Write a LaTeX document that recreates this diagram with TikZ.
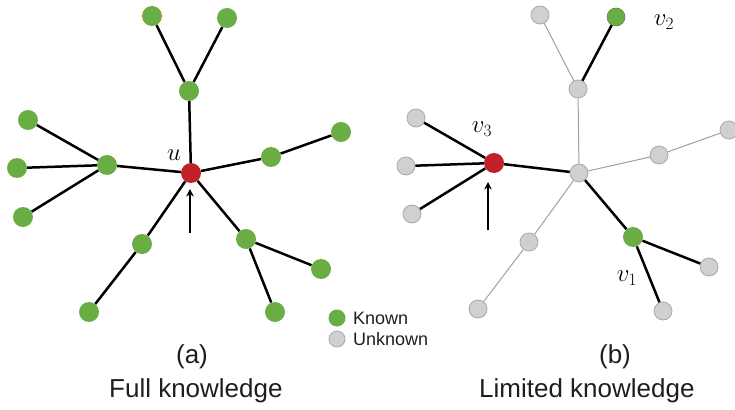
\documentclass[tikz,border=0pt]{standalone}
\usepackage{fontspec}
\setmainfont{Liberation Sans}
\usetikzlibrary{arrows.meta}
\definecolor{kgreen}{RGB}{106,173,69}
\definecolor{kred}{RGB}{192,32,40}
\definecolor{ufill}{RGB}{208,208,208}
\definecolor{udraw}{RGB}{168,168,168}
\definecolor{uedge}{RGB}{160,160,160}
\definecolor{captc}{RGB}{30,30,30}
\begin{document}
\begin{tikzpicture}[x=1pt,y=-1pt,
  known/.style={circle,fill=kgreen,inner sep=0pt,minimum size=20pt},
  root/.style={circle,fill=kred,inner sep=0pt,minimum size=20pt},
  unk/.style={circle,fill=ufill,draw=udraw,line width=0.8pt,inner sep=0pt,minimum size=18pt},
  knownsm/.style={circle,fill=kgreen,draw=kgreen!80!black,line width=0.6pt,inner sep=0pt,minimum size=18pt},
  bedge/.style={line width=2.5pt,black},
  gedge/.style={line width=1pt,uedge},
  pointer/.style={line width=2.5pt,-{Stealth[length=7.5pt,width=7.5pt]}},
  mlabel/.style={font=\fontsize{26}{26}\selectfont},
  captxt/.style={font=\fontsize{26}{30}\selectfont,text=captc,inner sep=0pt},
  leg/.style={font=\fontsize{18}{18}\selectfont,anchor=west,inner sep=0pt,text=captc}
]
\useasboundingbox (0,0) rectangle (735,409);
% ---------- (a) full knowledge ----------
\node[known] (a1) at (152,16) {};
\node[known] (a2) at (227,18) {};
\node[known] (at) at (189,91) {};
\node[root]  (u)  at (191,173) {};
\node[known] (al) at (107,165) {};
\node[known] (al1) at (28,120) {};
\node[known] (al2) at (17,168) {};
\node[known] (al3) at (23,217) {};
\node[known] (ar) at (271,157) {};
\node[known] (ar1) at (341,132) {};
\node[known] (abl) at (142,244) {};
\node[known] (abl1) at (89,312) {};
\node[known] (abr) at (246,239) {};
\node[known] (abr1) at (321,269) {};
\node[known] (abr2) at (275,312) {};
\coordinate (ua) at (190,233);
\coordinate (ut) at (190,189);
\draw[bedge] (a1) -- (at) -- (a2);
\draw[bedge] (at) -- (u);
\draw[bedge] (al1) -- (al) (al2) -- (al) (al3) -- (al) (al) -- (u);
\draw[bedge] (u) -- (ar) -- (ar1);
\draw[bedge] (u) -- (abl) -- (abl1);
\draw[bedge] (u) -- (abr) -- (abr1) (abr) -- (abr2);
\draw[pointer] (ua) -- (ut);
\node[mlabel] (ul) at (174,155) {$u$};
% ---------- (b) limited knowledge ----------
\node[unk] (b1) at (540,15) {};
\node[knownsm] (v2) at (616,17) {};
\node[unk] (bt) at (578,89) {};
\node[unk] (bc) at (579,173) {};
\node[root] (v3) at (494,163) {};
\node[unk] (bl1) at (416,118) {};
\node[unk] (bl2) at (406,166) {};
\node[unk] (bl3) at (412,214) {};
\node[unk] (br) at (659,155) {};
\node[unk] (br1) at (729,130) {};
\node[unk] (bbl) at (529,242) {};
\node[unk] (bbl1) at (478,309) {};
\node[known] (v1) at (633,237) {};
\node[unk] (bbr1) at (709,267) {};
\node[unk] (bbr2) at (663,311) {};
\coordinate (v3a) at (488,230);
\coordinate (v3t) at (488,182);
\draw[gedge] (b1) -- (bt) (bt) -- (bc) (bc) -- (br) -- (br1) (bc) -- (bbl) -- (bbl1);
\draw[bedge] (bt) -- (v2);
\draw[bedge] (bl1) -- (v3) (bl2) -- (v3) (bl3) -- (v3) (v3) -- (bc);
\draw[bedge] (bc) -- (v1) -- (bbr1) (v1) -- (bbr2);
\draw[pointer] (v3a) -- (v3t);
\node[mlabel] (v3l) at (482,129) {$v_3$};
\node[mlabel] (v2l) at (664,22) {$v_2$};
\node[mlabel] (v1l) at (627,278) {$v_1$};
% ---------- legend ----------
\node[known,minimum size=17pt] (lk) at (337,318) {};
\node[unk,minimum size=16pt] (lu) at (337,339) {};
\node[leg] (lkt) at (353,318) {Known};
\node[leg] (lut) at (353,339) {Unknown};
% ---------- captions ----------
\node[captxt,anchor=base] (capa) at (192,363) {(a)};
\node[captxt,anchor=base west] (capa2) at (109,397) {Full knowledge};
\node[captxt,anchor=base] (capb) at (615,363) {(b)};
\node[captxt,anchor=base west] (capb2) at (479,397) {Limited knowledge};
\end{tikzpicture}
\end{document}
